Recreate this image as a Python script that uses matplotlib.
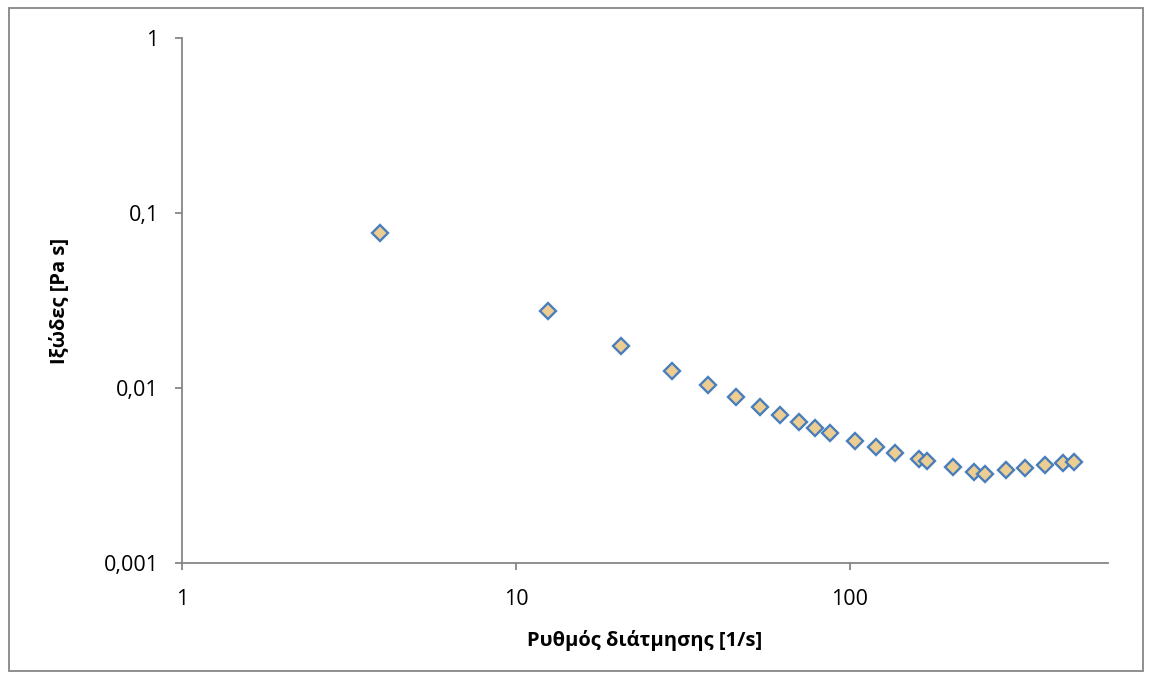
import numpy as np
import matplotlib
matplotlib.use("Agg")
import matplotlib.pyplot as plt
from matplotlib.patches import Rectangle
from matplotlib.ticker import FixedLocator, NullLocator

# shear rate [1/s] and viscosity [Pa s]
shear_rate = [3.9, 12.5, 20.7, 29.4, 37.5, 45.7, 53.8, 61.9, 70.6, 78.7, 87.1,
              103.7, 120.2, 137.0, 161.3, 170.4, 203.5, 235.8, 253.9, 294.0,
              335.2, 385.5, 435.6, 470.0]
viscosity = [0.0767, 0.0275, 0.01744, 0.01254, 0.01035, 0.00885, 0.0078, 0.0070,
             0.0064, 0.00592, 0.00554, 0.00497, 0.00457, 0.00424, 0.00392, 0.0038,
             0.00352, 0.00331, 0.00321, 0.00338, 0.00349, 0.00361, 0.0037, 0.00375]

x_ticks = [1, 10, 100]
x_tick_labels = ["1", "10", "100"]
y_ticks = [0.001, 0.01, 0.1, 1]
y_tick_labels = ["0,001", "0,01", "0,1", "1"]

plt.rcParams['font.family'] = ['Open Sans', 'DejaVu Sans']
axis_grey = "#868686"

fig = plt.figure(figsize=(11.52, 6.79), dpi=100)
ax = fig.add_axes([0.1582, 0.1713, 0.9618 - 0.1582, 0.9433 - 0.1713])

ax.plot(shear_rate, viscosity, linestyle="none", marker="D", markersize=7.8,
        markerfacecolor="#EDCE92", markeredgecolor="#4A7EBB", markeredgewidth=1.7,
        clip_on=False)

ax.set_xscale("log")
ax.set_yscale("log")
ax.set_xlim(1, 594)
ax.set_ylim(0.001, 1)

ax.xaxis.set_major_locator(FixedLocator(x_ticks))
ax.xaxis.set_minor_locator(NullLocator())
ax.set_xticklabels(x_tick_labels)
ax.yaxis.set_major_locator(FixedLocator(y_ticks))
ax.yaxis.set_minor_locator(NullLocator())
ax.set_yticklabels(y_tick_labels)

for side in ["top", "right"]:
    ax.spines[side].set_visible(False)
for side in ["left", "bottom"]:
    ax.spines[side].set_color(axis_grey)
    ax.spines[side].set_linewidth(1.3)
ax.tick_params(axis="both", which="major", direction="out", length=5,
               width=1.3, color=axis_grey, labelsize=15.5)
ax.tick_params(axis="y", pad=12)
ax.tick_params(axis="x", pad=14)

ax.set_xlabel("Ρυθμός διάτμησης [1/s]", fontsize=14.5, fontweight="bold", labelpad=14)
ax.set_ylabel("Ιξώδες [Pa s]", fontsize=14.5, fontweight="bold", labelpad=24)

# outer chart border
fig.patches.append(Rectangle((9 / 1152, 1 - 671 / 679), (1143 - 9) / 1152, (671 - 8) / 679,
                             transform=fig.transFigure, fill=False,
                             edgecolor=axis_grey, linewidth=1.3))

fig.savefig("out.png", dpi=100)
